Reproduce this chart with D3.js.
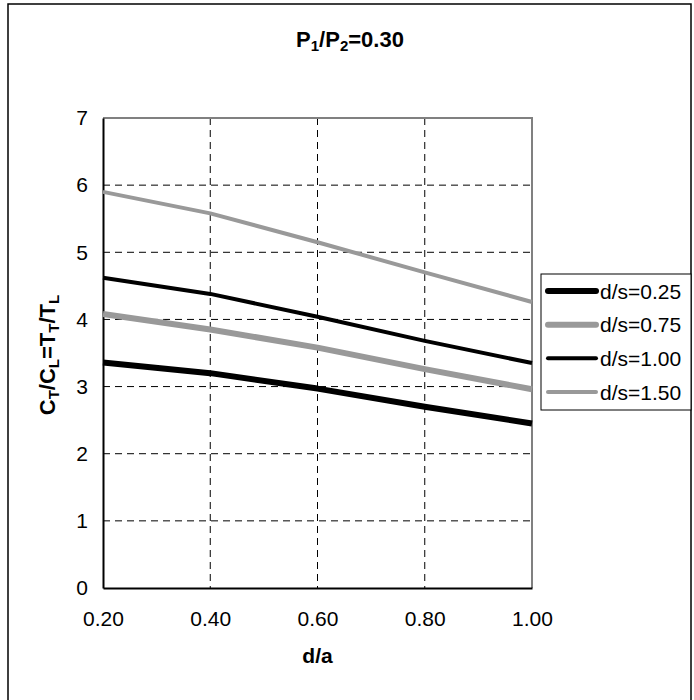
<!DOCTYPE html>
<html>
<head>
<meta charset="utf-8">
<script src="https://cdn.jsdelivr.net/npm/d3@7"></script>
<style>
  body { margin: 0; background: #fff; }
  text { font-family: "Liberation Sans", Arial, sans-serif; }
</style>
</head>
<body>
<div id="chart"></div>
<script>
// data
var xValues = [0.20, 0.40, 0.60, 0.80, 1.00];
var ds025 = [3.36, 3.20, 2.97, 2.70, 2.45];
var ds075 = [4.08, 3.85, 3.58, 3.26, 2.96];
var ds100 = [4.62, 4.38, 4.04, 3.68, 3.35];
var ds150 = [5.90, 5.58, 5.15, 4.70, 4.26];
var seriesNames = ["d/s=0.25", "d/s=0.75", "d/s=1.00", "d/s=1.50"];
var xTicks = [0.20, 0.40, 0.60, 0.80, 1.00];
var yTicks = [0, 1, 2, 3, 4, 5, 6, 7];

var series = [
  {name: seriesNames[0], values: ds025, color: "#000000", width: 6},
  {name: seriesNames[1], values: ds075, color: "#999999", width: 6},
  {name: seriesNames[2], values: ds100, color: "#000000", width: 4},
  {name: seriesNames[3], values: ds150, color: "#999999", width: 4}
];

var W = 694, H = 700;
var plot = {left: 103, top: 118, right: 532, bottom: 588};

var svg = d3.select("#chart").append("svg")
    .attr("width", W)
    .attr("height", H);

// outer chart border
svg.append("rect")
    .attr("x", 8).attr("y", 4)
    .attr("width", 683).attr("height", 710)
    .attr("fill", "#fff")
    .attr("stroke", "#000")
    .attr("stroke-width", 1.5);

var x = d3.scaleLinear().domain([0.2, 1.0]).range([plot.left, plot.right]);
var y = d3.scaleLinear().domain([0, 7]).range([plot.bottom, plot.top]);

// grid lines
var grid = svg.append("g");
grid.selectAll(".hg")
    .data(yTicks.filter(function(d) { return d > 0 && d < 7; }))
  .enter().append("line")
    .attr("x1", plot.left).attr("x2", plot.right)
    .attr("y1", function(d) { return y(d); })
    .attr("y2", function(d) { return y(d); })
    .attr("stroke", "#000")
    .attr("stroke-width", 1)
    .attr("stroke-dasharray", "7,5");
grid.selectAll(".vg")
    .data(xTicks.filter(function(d) { return d > 0.2 && d < 1.0; }))
  .enter().append("line")
    .attr("y1", plot.top).attr("y2", plot.bottom)
    .attr("x1", function(d) { return x(d); })
    .attr("x2", function(d) { return x(d); })
    .attr("stroke", "#000")
    .attr("stroke-width", 1)
    .attr("stroke-dasharray", "7,5");

// plot area frame: grey top/right, black axes
svg.append("path")
    .attr("d", "M" + plot.left + "," + plot.top + "H" + plot.right + "V" + plot.bottom)
    .attr("fill", "none")
    .attr("stroke", "#808080")
    .attr("stroke-width", 2);

var xAxis = d3.axisBottom(x).tickValues(xTicks).tickSize(0).tickFormat(d3.format(".2f"));
var yAxis = d3.axisLeft(y).tickValues(yTicks).tickSize(0).tickFormat(d3.format("d"));

var gx = svg.append("g")
    .attr("transform", "translate(0," + plot.bottom + ")")
    .call(xAxis);
gx.select(".domain").attr("stroke", "#000").attr("stroke-width", 2);
gx.selectAll("text")
    .attr("font-size", 21)
    .attr("fill", "#000")
    .attr("y", 23)
    .attr("dy", "0.71em");

var gy = svg.append("g")
    .attr("transform", "translate(" + plot.left + ",0)")
    .call(yAxis);
gy.select(".domain").attr("stroke", "#000").attr("stroke-width", 2);
gy.selectAll("text")
    .attr("font-size", 21)
    .attr("fill", "#000")
    .attr("x", -15);

// series lines
var line = d3.line()
    .x(function(d, i) { return x(xValues[i]); })
    .y(function(d) { return y(d); });

svg.selectAll(".series")
    .data(series)
  .enter().append("path")
    .attr("d", function(s) { return line(s.values); })
    .attr("fill", "none")
    .attr("stroke", function(s) { return s.color; })
    .attr("stroke-width", function(s) { return s.width; })
    .attr("stroke-linejoin", "round");

// title
var title = svg.append("text")
    .attr("x", 350).attr("y", 47)
    .attr("text-anchor", "middle")
    .attr("font-size", 22)
    .attr("font-weight", "bold");
title.append("tspan").text("P");
title.append("tspan").attr("font-size", 15).attr("dy", 4).text("1");
title.append("tspan").attr("dy", -4).text("/P");
title.append("tspan").attr("font-size", 15).attr("dy", 4).text("2");
title.append("tspan").attr("dy", -4).text("=0.30");

// x axis title
svg.append("text")
    .attr("x", (plot.left + plot.right) / 2).attr("y", 663)
    .attr("text-anchor", "middle")
    .attr("font-size", 21)
    .attr("font-weight", "bold")
    .text("d/a");

// y axis title
var ylab = svg.append("text")
    .attr("transform", "translate(55,355) rotate(-90)")
    .attr("text-anchor", "middle")
    .attr("font-size", 22)
    .attr("font-weight", "bold");
var parts = [["C", 0], ["T", 1], ["/C", 0], ["L", 1], ["=T", 0], ["T", 1], ["/T", 0], ["L", 1]];
parts.forEach(function(p, i) {
  var prev = i > 0 ? parts[i - 1][1] : 0;
  var t = ylab.append("tspan").text(p[0]);
  if (p[1]) t.attr("font-size", 15).attr("dy", 4);
  else if (prev) t.attr("dy", -4);
});

// legend
var legend = svg.append("g");
legend.append("rect")
    .attr("x", 541).attr("y", 274)
    .attr("width", 150).attr("height", 136)
    .attr("fill", "#fff")
    .attr("stroke", "#000")
    .attr("stroke-width", 1);

var rowY = d3.scalePoint().domain(seriesNames).range([291, 392]);
var items = legend.selectAll(".item")
    .data(series)
  .enter().append("g")
    .attr("transform", function(s) { return "translate(0," + rowY(s.name) + ")"; });
items.append("line")
    .attr("x1", 548).attr("x2", 596)
    .attr("stroke", function(s) { return s.color; })
    .attr("stroke-width", function(s) { return s.width; })
    .attr("stroke-linecap", "round");
items.append("text")
    .attr("x", 600)
    .attr("dy", "0.36em")
    .attr("font-size", 21)
    .text(function(s) { return s.name; });
</script>
</body>
</html>
